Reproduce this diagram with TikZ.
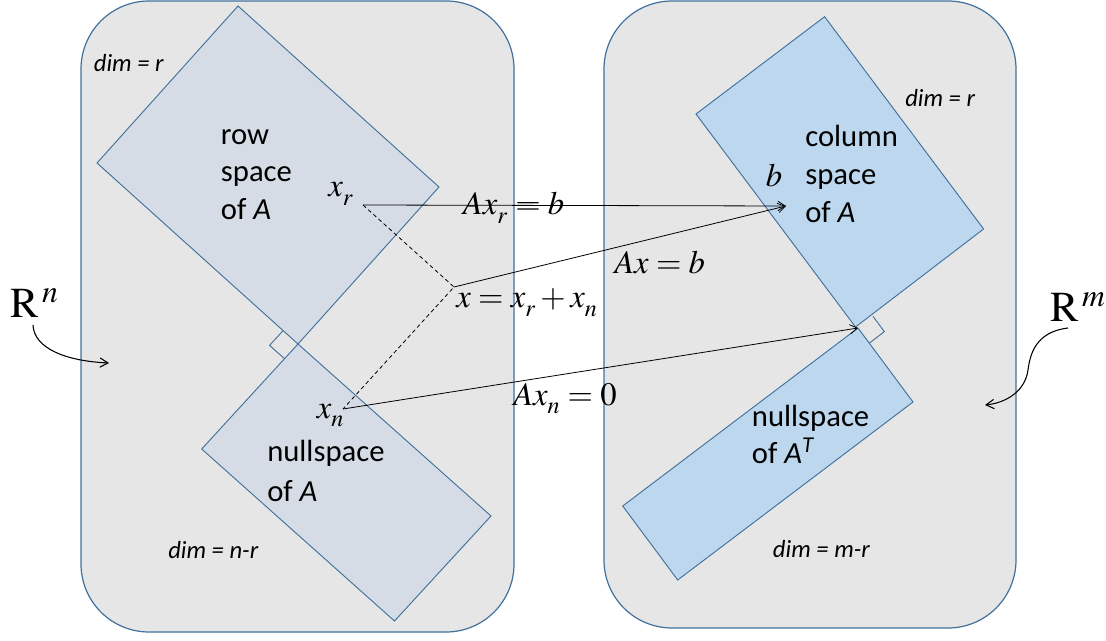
\documentclass[tikz,border=0pt]{standalone}
\usepackage{mathptmx}
\usepackage[no-math]{fontspec}
\setmainfont{Carlito}
\usetikzlibrary{arrows.meta}
\definecolor{boxfill}{RGB}{231,230,230}
\definecolor{edgeblue}{RGB}{65,113,156}
\definecolor{rowfill}{RGB}{214,220,229}
\definecolor{colfill}{RGB}{189,215,238}
\newcommand{\lowsub}[1]{_{\raisebox{-2.5pt}{$\scriptstyle #1$}}}
\begin{document}
\begin{tikzpicture}[x=0.75pt,y=-0.75pt,
  spacebox/.style={draw=edgeblue,line width=0.9pt,fill=boxfill,rounded corners=51pt},
  subsp/.style={draw=edgeblue,line width=0.7pt},
  rightang/.style={draw=edgeblue,line width=0.7pt},
  lbl/.style={inner sep=0pt,anchor=base west,font=\fontsize{23}{28}\selectfont},
  dimlbl/.style={inner sep=0pt,anchor=base west,font=\fontsize{18.5}{22}\selectfont\itshape},
  mth/.style={inner sep=0pt,anchor=base west,font=\fontsize{24.5}{28}\selectfont},
  bigR/.style={inner sep=0pt,anchor=base west,font=\fontsize{32}{36}\selectfont},
  conn/.style={line width=0.6pt,-{Straight Barb[length=5.5pt,width=7pt]}},
  dsh/.style={line width=0.6pt,dash pattern=on 3pt off 2.2pt},
  curv/.style={line width=0.8pt,-{Straight Barb[length=6pt,width=7pt]}}
]
\useasboundingbox (0,0) rectangle (1106,641);
% the two spaces
\path[spacebox] (81,1) rectangle (514,632);
\path[spacebox] (604,1) rectangle (1016,628);
% subspaces
\path[subsp,fill=rowfill] (238,6) -- (97,163) -- (298,344) -- (439,187) -- cycle;
\path[subsp,fill=rowfill] (298,344) -- (201.7,449) -- (394.5,621) -- (491,516) -- cycle;
\path[subsp,fill=colfill] (824.6,16.7) -- (696,114) -- (855.5,327) -- (983.6,229) -- cycle;
\path[subsp,fill=colfill] (858,328) -- (622.7,506) -- (677.7,580) -- (913,402) -- cycle;
% right-angle marks
\draw[rightang] (283.1,330.6) -- (269.6,345.4) -- (284.5,358.7);
\draw[rightang] (873,316.3) -- (884.3,331.6) -- (869.3,343.2);
% points
\coordinate (xr) at (363,205);
\coordinate (xp) at (454,287);
\coordinate (xn) at (343,409);
\coordinate (bpt) at (786,206);
\coordinate (zpt) at (858,328);
\coordinate (rnS) at (33,325);
\coordinate (rnE) at (109,363);
\coordinate (rmS) at (1068,328);
\coordinate (rmM) at (1028,370);
\coordinate (rmE) at (985,405);
% connectors
\draw[dsh] (xr) -- (xp) -- (xn);
\draw[conn] (xr) -- (bpt);
\draw[conn] (xp) -- (bpt);
\draw[conn] (xn) -- (zpt);
\draw[curv] (rnS) .. controls (34,348) and (65,361) .. (rnE);
\draw[curv] (rmS) .. controls (1035,332) and (1030,355) .. (rmM) .. controls (1025,392) and (1005,403) .. (rmE);
% texts
\node[dimlbl] (dimr1) at (93.6,72) {dim = r};
\node[dimlbl] (dimr2) at (905,107) {dim = r};
\node[dimlbl] (dimnr) at (168,558) {dim = n-r};
\node[dimlbl] (dimmr) at (772.7,557.7) {dim = m-r};
\node[lbl] (row1) at (220.7,145) {row};
\node[lbl] (row2) at (220.7,182) {space};
\node[lbl] (row3) at (220.7,220) {of \textit{A}};
\node[lbl] (col1) at (805,147) {column};
\node[lbl] (col2) at (805,185) {space};
\node[lbl] (col3) at (805,223) {of \textit{A}};
\node[lbl] (nul1) at (267,461.7) {nullspace};
\node[lbl] (nul2) at (267,501) {of \textit{A}};
\node[lbl] (lnul1) at (751.7,426.7) {nullspace};
\node[lbl] (lnul2) at (751.7,463.3) {of \textit{A}\textsuperscript{\textit{T}}};
\node[mth] (lxr) at (328,197) {$x\lowsub{r}$};
\node[mth] (lxn) at (316.7,418) {$x\lowsub{n}$};
\node[mth] (lb) at (765.7,187) {$b$};
\node[mth] (eq1) at (462.7,215) {$Ax\lowsub{r}=b$};
\node[mth] (eq2) at (456,308) {$x=x\lowsub{r}+x\lowsub{n}$};
\node[mth] (eq3) at (614,274) {$Ax=b$};
\node[mth] (eq4) at (513,405) {$Ax\lowsub{n}=0$};
\node[bigR] (Rn) at (10,318) {$\mathrm{R}^{\,n}$};
\node[bigR] (Rm) at (1050,322) {$\mathrm{R}^{\,m}$};
\end{tikzpicture}
\end{document}
